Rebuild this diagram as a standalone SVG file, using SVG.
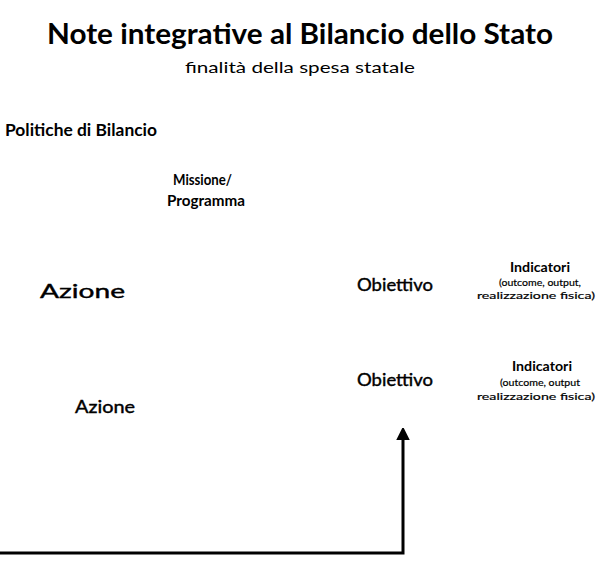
<svg xmlns="http://www.w3.org/2000/svg" width="602" height="561" viewBox="0 0 602 561">
<style>
text{font-family:Lato,"Liberation Sans",sans-serif;fill:#000}
.b{font-weight:bold}
.m{stroke:#000;stroke-width:0.4px}
.lbl{font-size:17px}
.ind{font-size:14px;font-weight:bold}
.sm{font-size:10px;stroke:#000;stroke-width:0.2px}
.conn{stroke:#000;stroke-width:3;fill:none}
</style>
<defs>
<marker id="ah" markerWidth="4" markerHeight="4.5" refX="2" refY="2.25" orient="auto" markerUnits="strokeWidth">
<path d="M0,0 L4.5,2.25 L0,4.5 Z" fill="#000"/>
</marker>
</defs>
<rect width="602" height="561" fill="#fff"/>
<g id="title">
<text x="300" y="44" text-anchor="middle" class="b" font-size="28" textLength="506" lengthAdjust="spacingAndGlyphs">Note integrative al Bilancio dello Stato</text>
<text x="300" y="73" text-anchor="middle" font-size="16" textLength="230" lengthAdjust="spacingAndGlyphs">finalità della spesa statale</text>
</g>
<g id="politiche">
<text x="5" y="136" class="b" font-size="17" textLength="152" lengthAdjust="spacingAndGlyphs">Politiche di Bilancio</text>
</g>
<g id="missione">
<text x="173" y="185" class="b" font-size="15" textLength="59" lengthAdjust="spacingAndGlyphs">Missione/</text>
<text x="167" y="206" class="b" font-size="15" textLength="78" lengthAdjust="spacingAndGlyphs">Programma</text>
</g>
<g id="azione1">
<text x="40" y="298" class="m" font-size="19" textLength="85" lengthAdjust="spacingAndGlyphs">Azione</text>
</g>
<g id="obiettivo1">
<text x="357" y="291" class="lbl m" textLength="76" lengthAdjust="spacingAndGlyphs">Obiettivo</text>
</g>
<g id="indicatori1">
<text x="510" y="272" class="ind" textLength="60" lengthAdjust="spacingAndGlyphs">Indicatori</text>
<text x="499" y="286" class="sm" textLength="82" lengthAdjust="spacingAndGlyphs">(outcome, output,</text>
<text x="477" y="299" class="sm" textLength="118" lengthAdjust="spacingAndGlyphs">realizzazione fisica)</text>
</g>
<g id="obiettivo2">
<text x="357" y="386" class="lbl m" textLength="76" lengthAdjust="spacingAndGlyphs">Obiettivo</text>
</g>
<g id="indicatori2">
<text x="512" y="371" class="ind" textLength="60" lengthAdjust="spacingAndGlyphs">Indicatori</text>
<text x="500" y="386" class="sm" textLength="80" lengthAdjust="spacingAndGlyphs">(outcome, output</text>
<text x="477" y="400" class="sm" textLength="118" lengthAdjust="spacingAndGlyphs">realizzazione fisica)</text>
</g>
<g id="azione2">
<text x="75" y="413" class="m" font-size="17" textLength="60" lengthAdjust="spacingAndGlyphs">Azione</text>
</g>
<g id="connectors">
<path class="conn" d="M0,553 L403,553 L403,434" marker-end="url(#ah)"/>
</g>
</svg>
